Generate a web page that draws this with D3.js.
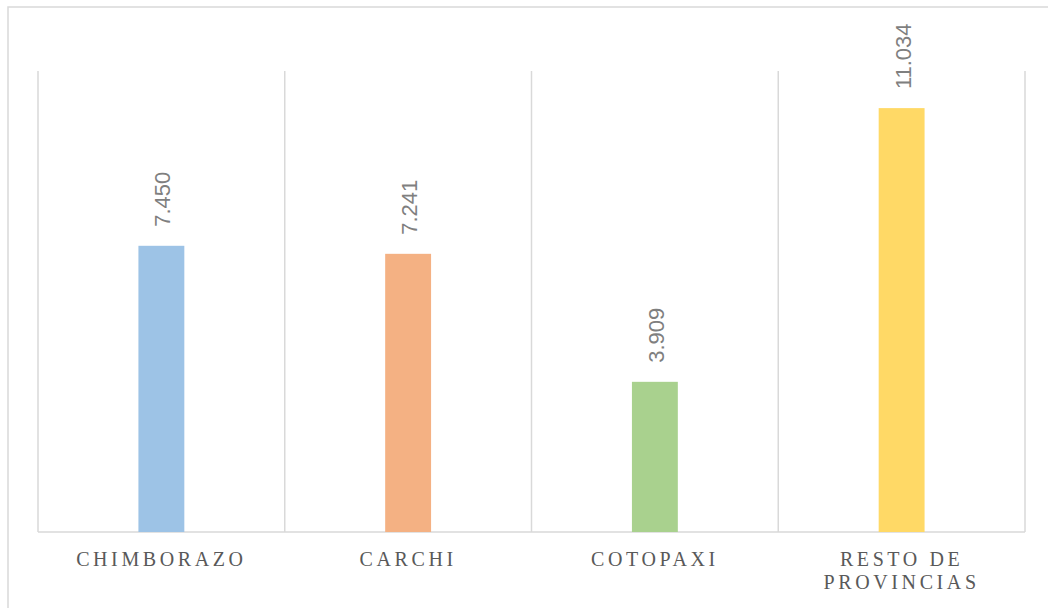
<!DOCTYPE html>
<html>
<head>
<meta charset="utf-8">
<script src="https://cdn.jsdelivr.net/npm/d3@7"></script>
<style>
  body { margin: 0; background: #fff; }
  .grid line { stroke: #d9d9d9; stroke-width: 1.5; }
  .frame { fill: none; stroke: #d9d9d9; stroke-width: 1.5; }
  .value { font-family: "Liberation Sans Narrow", "Liberation Sans", sans-serif; font-size: 22px; fill: #7f7f7f; }
  .cat { font-family: "Liberation Serif", serif; font-size: 20px; fill: #595959; letter-spacing: 3.6px; }
</style>
</head>
<body>
<svg class="chart"></svg>
<script>
var categories = [["CHIMBORAZO"], ["CARCHI"], ["COTOPAXI"], ["RESTO DE", "PROVINCIAS"]];
var values = [7.450, 7.241, 3.909, 11.034];
var labels = ["7.450", "7.241", "3.909", "11.034"];
var colors = ["#9dc3e6", "#f4b183", "#a9d18e", "#ffd966"];

var width = 1048, height = 608;
var plotL = 38, plotR = 1025, plotT = 71, plotB = 532;

var chart = d3.select(".chart").attr("width", width).attr("height", height);

chart.append("rect").attr("class", "frame")
    .attr("x", 8).attr("y", 7).attr("width", 1060).attr("height", 620);

var x = d3.scaleBand().domain(d3.range(values.length)).range([plotL, plotR]).paddingInner(0).paddingOuter(0);
var y = d3.scaleLinear().domain([0, 12]).range([plotB, plotT]);

var grid = chart.append("g").attr("class", "grid");
grid.selectAll("line.v")
    .data(d3.range(values.length + 1))
    .enter().append("line")
    .attr("x1", function(d) { return plotL + d * x.bandwidth(); })
    .attr("x2", function(d) { return plotL + d * x.bandwidth(); })
    .attr("y1", plotT).attr("y2", plotB);
grid.append("line").attr("x1", plotL).attr("x2", plotR).attr("y1", plotB).attr("y2", plotB);

var bw = x.bandwidth() * 0.186;

chart.append("g").selectAll("rect")
    .data(values)
    .enter().append("rect")
    .attr("x", function(d, i) { return x(i) + x.bandwidth() / 2 - bw / 2; })
    .attr("y", function(d) { return y(d); })
    .attr("width", bw)
    .attr("height", function(d) { return y(0) - y(d); })
    .attr("fill", function(d, i) { return colors[i]; });

chart.append("g").selectAll("text")
    .data(values)
    .enter().append("text")
    .attr("class", "value")
    .attr("transform", function(d, i) {
        return "translate(" + (x(i) + x.bandwidth() / 2 + 9) + "," + (y(d) - 19) + ") rotate(-90)";
    })
    .text(function(d, i) { return labels[i]; });

var cat = chart.append("g").selectAll("text")
    .data(categories)
    .enter().append("text")
    .attr("class", "cat")
    .attr("text-anchor", "middle")
    .attr("x", function(d, i) { return x(i) + x.bandwidth() / 2; })
    .attr("y", 566);

cat.selectAll("tspan")
    .data(function(d) { return d; })
    .enter().append("tspan")
    .attr("x", function() { return d3.select(this.parentNode).attr("x"); })
    .attr("dy", function(d, j) { return j ? 23 : 0; })
    .text(function(d) { return d; });
</script>
</body>
</html>
